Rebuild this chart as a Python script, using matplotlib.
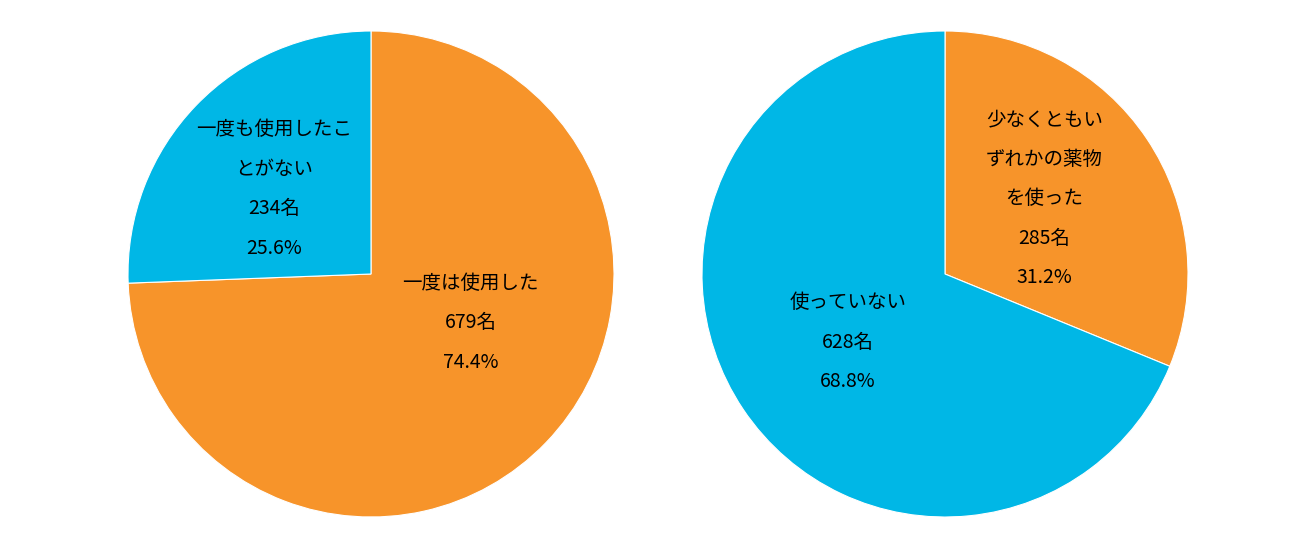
import matplotlib
matplotlib.use("Agg")
import matplotlib.pyplot as plt

plt.rcParams['font.family'] = ['Noto Sans CJK JP', 'DejaVu Sans']

orange = '#F7942A'
blue = '#00B7E6'

left_values = [74.4, 25.6]
left_labels = ['一度は使用した\n679名\n74.4%', '一度も使用したこ\nとがない\n234名\n25.6%']
left_label_pos = [(0.41, -0.20), (-0.40, 0.35)]

right_values = [31.2, 68.8]
right_labels = ['少なくともい\nずれかの薬物\nを使った\n285名\n31.2%', '使っていない\n628名\n68.8%']
right_label_pos = [(0.41, 0.31), (-0.40, -0.28)]

fig = plt.figure(figsize=(13, 5.5), dpi=100)
ax1 = fig.add_axes([128/1300, 33/550, 486/1300, 486/550])
ax2 = fig.add_axes([702/1300, 33/550, 486/1300, 486/550])

for ax, vals, labels, pos in [(ax1, left_values, left_labels, left_label_pos),
                              (ax2, right_values, right_labels, right_label_pos)]:
    ax.pie(vals, colors=[orange, blue], startangle=90, counterclock=False,
           wedgeprops=dict(edgecolor='white', linewidth=0.8))
    for lab, (x, y) in zip(labels, pos):
        ax.text(x, y, lab, ha='center', va='center', fontsize=14,
                linespacing=2.15, color='black')
    ax.set_xlim(-1, 1)
    ax.set_ylim(-1, 1)
    ax.set_aspect('equal')

fig.savefig('out.png', dpi=100)
